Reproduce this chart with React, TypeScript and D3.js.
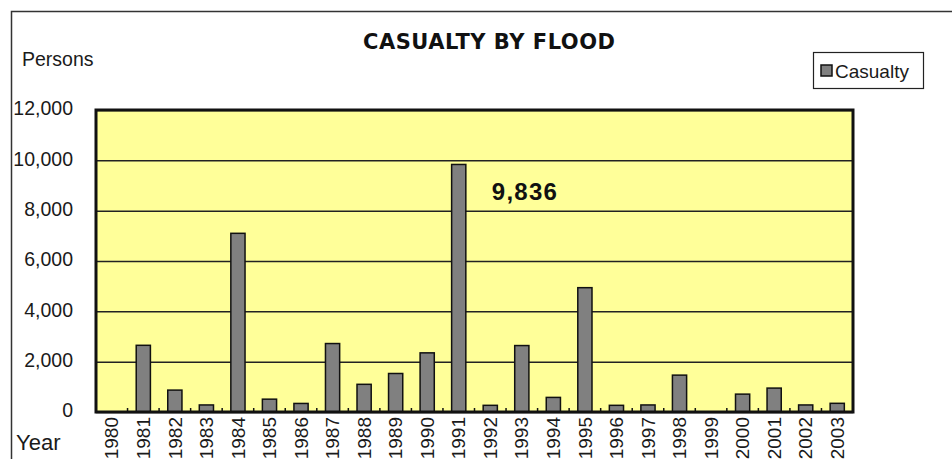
import * as d3 from 'd3';
import React, { useEffect, useRef } from 'react';

const years = [
  '1980', '1981', '1982', '1983', '1984', '1985', '1986', '1987', '1988', '1989', '1990', '1991',
  '1992', '1993', '1994', '1995', '1996', '1997', '1998', '1999', '2000', '2001', '2002', '2003',
];
const casualty = [
  0, 2650, 870, 280, 7100, 510, 340, 2720, 1100, 1530, 2350, 9836,
  265, 2640, 580, 4940, 265, 280, 1465, 0, 710, 950, 280, 345,
];
const yTicks = [0, 2000, 4000, 6000, 8000, 10000, 12000];

export default function App() {
  const svgRef = useRef<SVGSVGElement | null>(null);

  const width = 952;
  const height = 459;
  const marginTop = 110;
  const marginRight = 99;
  const marginBottom = 47;
  const marginLeft = 96;
  const font = 'Arial, "Liberation Sans", sans-serif';

  useEffect(() => {
    const svg = d3.select(svgRef.current)
      .attr('width', width)
      .attr('height', height)
      .attr('viewBox', `0 0 ${width} ${height}`);

    svg.selectAll('*').remove();

    const x = d3.scaleBand<string>()
      .domain(years)
      .range([marginLeft, width - marginRight])
      .paddingInner(0.55)
      .paddingOuter(0.275);

    const y = d3.scaleLinear()
      .domain([0, 12000])
      .range([height - marginBottom, marginTop]);

    // outer frame (top and left edges only)
    svg.append('path')
      .attr('d', `M11.5,${height} V11.5 H${width}`)
      .attr('fill', 'none')
      .attr('stroke', '#333')
      .attr('stroke-width', 1.5);

    // plot background
    svg.append('rect')
      .attr('x', marginLeft)
      .attr('y', marginTop)
      .attr('width', width - marginLeft - marginRight)
      .attr('height', height - marginTop - marginBottom)
      .attr('fill', '#ffff99');

    // y axis with gridlines
    svg.append('g')
      .attr('transform', `translate(${marginLeft},0)`)
      .call(d3.axisLeft(y).tickValues(yTicks).tickSize(0).tickPadding(23).tickFormat(d3.format(',')))
      .call(g => g.select('.domain').remove())
      .call(g => g.selectAll('.tick text')
        .attr('font-family', font)
        .attr('font-size', 19.5)
        .attr('fill', '#1a1a1a')
        .attr('dy', '0.25em'))
      .call(g => g.selectAll('.tick line').clone()
        .attr('x2', width - marginLeft - marginRight)
        .attr('stroke', '#222')
        .attr('stroke-width', 1.5));

    // bars
    svg.append('g')
      .selectAll('rect')
      .data(casualty)
      .join('rect')
      .attr('x', (_, i) => x(years[i]) ?? 0)
      .attr('y', d => y(d))
      .attr('width', x.bandwidth())
      .attr('height', d => y(0) - y(d))
      .attr('fill', '#808080')
      .attr('stroke', '#111')
      .attr('stroke-width', 1.5);

    // small ticks between categories
    const step = x.step();
    svg.append('g')
      .selectAll('line')
      .data(d3.range(years.length + 1))
      .join('line')
      .attr('x1', i => marginLeft + i * step)
      .attr('x2', i => marginLeft + i * step)
      .attr('y1', y(0))
      .attr('y2', y(0) - 4)
      .attr('stroke', '#111')
      .attr('stroke-width', 1.5);

    // plot border
    svg.append('rect')
      .attr('x', marginLeft)
      .attr('y', marginTop)
      .attr('width', width - marginLeft - marginRight)
      .attr('height', height - marginTop - marginBottom)
      .attr('fill', 'none')
      .attr('stroke', '#111')
      .attr('stroke-width', 3);

    // x axis labels (rotated)
    svg.append('g')
      .attr('transform', `translate(0,${height - marginBottom})`)
      .call(d3.axisBottom(x).tickSize(0))
      .call(g => g.select('.domain').remove())
      .call(g => g.selectAll('.tick text')
        .attr('font-family', font)
        .attr('font-size', 19)
        .attr('fill', '#1a1a1a')
        .attr('transform', 'rotate(-90)')
        .attr('text-anchor', 'end')
        .attr('x', -5)
        .attr('y', 0)
        .attr('dy', '0.35em'));

    // title
    svg.append('text')
      .attr('x', 489)
      .attr('y', 49)
      .attr('text-anchor', 'middle')
      .attr('font-family', '"DejaVu Sans", Arial, sans-serif')
      .attr('font-weight', 'bold')
      .attr('font-size', 21)
      .attr('textLength', 252)
      .attr('fill', '#111')
      .text('CASUALTY BY FLOOD');

    svg.append('text')
      .attr('x', 22)
      .attr('y', 66)
      .attr('font-family', font)
      .attr('font-size', 19.5)
      .attr('fill', '#1a1a1a')
      .text('Persons');

    svg.append('text')
      .attr('x', 16)
      .attr('y', 450)
      .attr('font-family', font)
      .attr('font-size', 22)
      .attr('fill', '#1a1a1a')
      .text('Year');

    // max value annotation
    const maxIdx = d3.maxIndex(casualty);
    svg.append('text')
      .attr('x', (x(years[maxIdx]) ?? 0) + x.bandwidth() + 26)
      .attr('y', y(casualty[maxIdx]) + 36)
      .attr('font-family', font)
      .attr('font-weight', 'bold')
      .attr('font-size', 24)
      .attr('textLength', 65)
      .attr('fill', '#111')
      .text(d3.format(',')(casualty[maxIdx]));

    // legend
    const legend = svg.append('g').attr('transform', 'translate(813,52)');
    legend.append('rect')
      .attr('x', 0.5)
      .attr('y', 0.5)
      .attr('width', 110)
      .attr('height', 36)
      .attr('fill', '#fff')
      .attr('stroke', '#222')
      .attr('stroke-width', 1.2);
    legend.append('rect')
      .attr('x', 8)
      .attr('y', 13)
      .attr('width', 11)
      .attr('height', 11)
      .attr('fill', '#808080')
      .attr('stroke', '#111')
      .attr('stroke-width', 1.5);
    legend.append('text')
      .attr('x', 22)
      .attr('y', 25.5)
      .attr('font-family', font)
      .attr('font-size', 19)
      .attr('fill', '#1a1a1a')
      .text('Casualty');
  }, []);

  return <svg ref={svgRef} style={{ position: 'absolute', left: 0, top: 0, background: '#fff' }}></svg>;
}
